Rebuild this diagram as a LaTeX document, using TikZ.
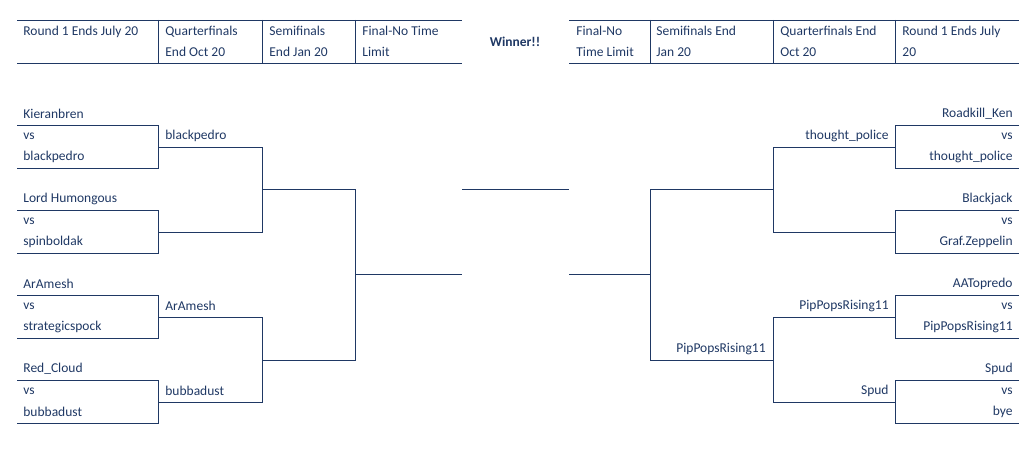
\documentclass[tikz,border=0pt]{standalone}
\usepackage{fontspec}
\setmainfont{Carlito}
\definecolor{brblue}{RGB}{31,56,100}
\begin{document}
\begin{tikzpicture}[x=1pt,y=-1pt,line width=0.8pt,draw=brblue,
  lname/.style={anchor=west,text=brblue,inner sep=0pt,font=\fontsize{13.5}{16}\selectfont},
  rname/.style={anchor=east,text=brblue,inner sep=0pt,font=\fontsize{13.5}{16}\selectfont},
  hname/.style={anchor=west,text=brblue,inner sep=0pt,align=left,font=\fontsize{13.5}{21}\selectfont}]
  \useasboundingbox (0,0) rectangle (1034,449);

  % header
  \draw (17,20) -- (462,20) (17,63) -- (462,63)
        (569,20) -- (1019,20) (569,63) -- (1019,63);
  \foreach \x in {158,262,355,650,773,895}
    \draw (\x,20) -- (\x,63);
  \node[hname] (h1) at (23,41.5) {Round 1 Ends July 20\\\phantom{X}};
  \node[hname] (h2) at (165,41.5) {Quarterfinals\\End Oct 20};
  \node[hname] (h3) at (269,41.5) {Semifinals\\End Jan 20};
  \node[hname] (h4) at (362,41.5) {Final-No Time\\Limit};
  \node[text=brblue,font=\fontsize{13.5}{16}\selectfont\bfseries] (win) at (515,42) {Winner!!};
  \node[hname] (h5) at (576,41.5) {Final-No\\Time Limit};
  \node[hname] (h6) at (656,41.5) {Semifinals End\\Jan 20};
  \node[hname] (h7) at (780,41.5) {Quarterfinals End\\Oct 20};
  \node[hname] (h8) at (902,41.5) {Round 1 Ends July\\20};

  % round 1 boxes
  \foreach \t/\a/\b [count=\i] in {125/Kieranbren/blackpedro,210/Lord Humongous/spinboldak,
      295/ArAmesh/strategicspock,380/Red\_Cloud/bubbadust} {
    \draw (17,\t) -- (158,\t) -- (158,\t+43) -- (17,\t+43);
    \node[lname] (la\i) at (23,\t-11) {\a};
    \node[lname] (lv\i) at (23,\t+11) {vs};
    \node[lname] (lb\i) at (23,\t+32) {\b};
  }
  \foreach \t/\a/\b [count=\i] in {125/Roadkill\_Ken/thought\_police,210/Blackjack/Graf.Zeppelin,
      295/AATopredo/PipPopsRising11,380/Spud/bye} {
    \draw (1019,\t) -- (895,\t) -- (895,\t+43) -- (1019,\t+43);
    \node[rname] (ra\i) at (1013,\t-11) {\a};
    \node[rname] (rv\i) at (1013,\t+11) {vs};
    \node[rname] (rb\i) at (1013,\t+32) {\b};
  }

  % quarterfinals
  \draw (158,147) -- (262,147) -- (262,232) -- (158,232)
        (158,317) -- (262,317) -- (262,402) -- (158,402);
  \draw (895,147) -- (773,147) -- (773,232) -- (895,232)
        (895,317) -- (773,317) -- (773,402) -- (895,402);
  \node[lname] (lq1) at (165,136) {blackpedro};
  \node[lname] (lq3) at (165,306) {ArAmesh};
  \node[lname] (lq4) at (165,391) {bubbadust};
  \node[rname] (rq1) at (889,136) {thought\_police};
  \node[rname] (rq3) at (889,306) {PipPopsRising11};
  \node[rname] (rq4) at (889,391) {Spud};

  % semifinals and final
  \draw (262,189) -- (355,189) -- (355,360) -- (262,360)
        (355,274) -- (462,274);
  \draw (773,189) -- (650,189) -- (650,360) -- (773,360)
        (650,274) -- (569,274);
  \node[rname] (rs2) at (766,349) {PipPopsRising11};
  \draw (462,189) -- (569,189);
\end{tikzpicture}
\end{document}
